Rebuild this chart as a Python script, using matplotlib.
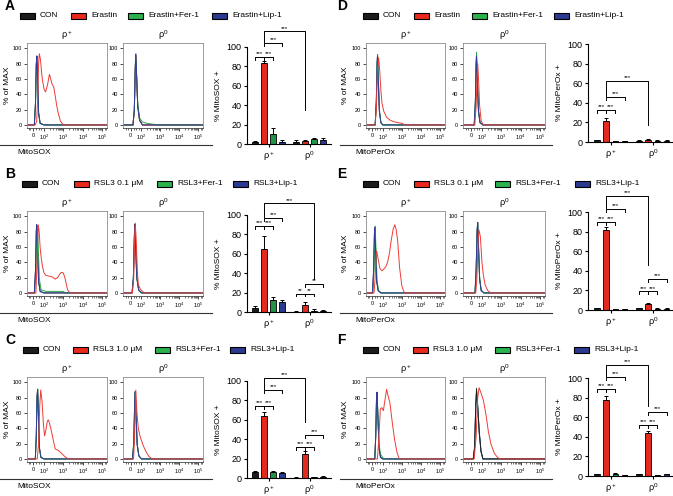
import matplotlib
matplotlib.use('Agg')
import numpy as np
import matplotlib.pyplot as plt
from matplotlib.patches import Rectangle
from matplotlib.lines import Line2D

plt.rcParams['font.family'] = ['Liberation Sans', 'DejaVu Sans']
plt.rcParams['mathtext.fontset'] = 'custom'
plt.rcParams['mathtext.rm'] = 'Liberation Sans'
plt.rcParams['mathtext.it'] = 'Liberation Sans:italic'

# ---- data ----
labels_erastin = ['CON', 'Erastin', 'Erastin+Fer-1', 'Erastin+Lip-1']
labels_rsl3_01 = ['CON', 'RSL3 0.1 μM', 'RSL3+Fer-1', 'RSL3+Lip-1']
labels_rsl3_10 = ['CON', 'RSL3 1.0 μM', 'RSL3+Fer-1', 'RSL3+Lip-1']
group_labels = ['ρ$^+$', 'ρ$^0$']

# bar means / errors (rho+, rho0), order CON, drug, +Fer-1, +Lip-1
a_pos, a_pos_err = [2, 83, 10, 2.5], [1, 3, 6, 2]
a_zero, a_zero_err = [2.5, 3, 5, 4], [1.5, 1.5, 1.5, 2]
b_pos, b_pos_err = [4.5, 65, 12, 10.5], [1.5, 13, 3, 1.5]
b_zero, b_zero_err = [0.5, 7.5, 1.5, 1.5], [0.3, 2.5, 1.5, 0.8]
c_pos, c_pos_err = [6, 63.5, 6, 5], [1.5, 5, 1.5, 1]
c_zero, c_zero_err = [0.5, 25, 1, 1.5], [0.3, 2.5, 0.5, 0.5]
d_pos, d_pos_err = [2, 21, 0.8, 0.8], [0.5, 3.5, 0.3, 0.3]
d_zero, d_zero_err = [1.5, 2.5, 1.5, 1.5], [0.5, 1, 0.5, 0.5]
e_pos, e_pos_err = [2, 82, 1, 0.7], [0.5, 2.5, 0.3, 0.3]
e_zero, e_zero_err = [2, 6.5, 1.5, 1.5], [0.5, 1, 0.5, 0.5]
f_pos, f_pos_err = [2, 77.5, 2.5, 1], [0.5, 4, 0.8, 0.3]
f_zero, f_zero_err = [2, 44, 1, 2], [0.5, 2, 0.3, 0.5]

# significance brackets: (bar i, bar j, level, text, left leg end, right leg end)
sig_a = [(0, 1, 90, '***', 87, 87), (1, 2, 90, '***', 87, 87), (1, 3, 104, '***', 101, 101),
         (1, 5, 116, '***', 105, 35)]
sig_b = [(0, 1, 89, '***', 86, 86), (1, 2, 89, '***', 86, 86), (1, 3, 97, '***', 94, 94),
         (1, 6, 112, '***', 98, 34), (4, 5, 19, '**', 16, 16), (5, 6, 19, '**', 16, 16),
         (5, 7, 29, '**', 26, 26)]
sig_c = [(0, 1, 74, '***', 71, 71), (1, 2, 74, '***', 71, 71), (1, 3, 91, '***', 88, 88),
         (1, 5, 103.5, '***', 92, 58), (4, 5, 32, '***', 29, 29), (5, 6, 32, '***', 29, 29),
         (5, 7, 44, '***', 41, 41)]
sig_d = [(0, 1, 33, '***', 30, 30), (1, 2, 33, '***', 30, 30), (1, 3, 46, '***', 43, 43),
         (1, 5, 62, '***', 47, 17)]
sig_e = [(0, 1, 90, '***', 87, 87), (1, 2, 90, '***', 87, 87), (1, 3, 103, '***', 100, 100),
         (1, 5, 116, '***', 104, 46), (4, 5, 19, '***', 16, 16), (5, 6, 19, '***', 16, 16),
         (5, 7, 31.5, '***', 28.5, 28.5)]
sig_f = [(0, 1, 89, '***', 86, 86), (1, 2, 89, '***', 86, 86), (1, 3, 100.7, '***', 97.7, 97.7),
         (1, 5, 113.5, '***', 102, 71), (4, 5, 52, '***', 49, 49), (5, 6, 52, '***', 49, 49),
         (5, 7, 65, '***', 62, 62)]

# flow histograms: (channel position, % of max); 2 = 10^2 ... 5 = 10^5
hist_a_pos = {
    'con': ([1.1, 1.5, 1.56, 1.6, 1.63, 1.67, 1.72, 1.8, 2.0, 5.3], [0, 0, 30, 80, 90, 60, 15, 2, 0, 0]),
    'fer': ([1.1, 1.5, 1.56, 1.6, 1.63, 1.67, 1.72, 1.8, 2.0, 5.3], [0, 0, 28, 76, 88, 60, 16, 2, 0, 0]),
    'lip': ([1.1, 1.5, 1.56, 1.6, 1.63, 1.67, 1.72, 1.8, 2.0, 5.3], [0, 0, 28, 78, 90, 62, 16, 2, 0, 0]),
    'drug': ([1.1, 1.55, 1.62, 1.68, 1.72, 1.76, 1.82, 1.9, 2.0, 2.08, 2.18, 2.28, 2.35, 2.42, 2.5,
              2.58, 2.66, 2.75, 2.85, 3.0, 5.3],
             [0, 0, 5, 40, 80, 93, 85, 62, 47, 43, 52, 66, 60, 53, 50, 38, 25, 14, 5, 0, 0]),
}
hist_a_zero = {
    'con': ([1.0, 1.55, 1.62, 1.67, 1.7, 1.74, 1.8, 1.9, 2.05, 5.3], [0, 0, 20, 75, 92, 65, 25, 6, 0, 0]),
    'drug': ([1.0, 1.55, 1.62, 1.67, 1.7, 1.74, 1.8, 1.9, 2.05, 5.3], [0, 0, 20, 72, 90, 64, 25, 6, 0, 0]),
    'fer': ([1.0, 1.55, 1.62, 1.67, 1.7, 1.74, 1.8, 1.9, 2.05, 2.3, 2.6, 2.9, 5.3],
            [0, 0, 18, 70, 88, 66, 28, 9, 4, 2, 1, 0, 0]),
    'lip': ([1.0, 1.55, 1.62, 1.67, 1.7, 1.74, 1.8, 1.9, 2.05, 5.3], [0, 0, 20, 76, 93, 66, 24, 6, 0, 0]),
}
hist_b_pos = {
    'con': ([1.1, 1.5, 1.56, 1.6, 1.62, 1.66, 1.72, 1.8, 2.0, 5.3], [0, 0, 30, 80, 89, 60, 15, 2, 0, 0]),
    'fer': ([1.1, 1.52, 1.58, 1.63, 1.66, 1.7, 1.76, 1.85, 2.1, 2.6, 3.0, 3.1, 5.3],
            [0, 0, 30, 78, 88, 62, 18, 4, 2, 2, 2, 0, 0]),
    'lip': ([1.1, 1.5, 1.56, 1.6, 1.62, 1.66, 1.72, 1.8, 2.0, 5.3], [0, 0, 30, 80, 89, 60, 15, 2, 0, 0]),
    'drug': ([1.1, 1.58, 1.64, 1.7, 1.75, 1.8, 1.86, 1.92, 2.0, 2.1, 2.25, 2.42, 2.58, 2.7, 2.8, 2.9,
              3.0, 3.08, 3.15, 3.22, 3.35, 5.3],
             [0, 0, 40, 89, 80, 59, 45, 35, 26, 23, 22, 21, 18, 20, 24, 27, 26, 20, 12, 4, 0, 0]),
}
hist_b_zero = {
    'con': ([1.0, 1.5, 1.57, 1.62, 1.65, 1.69, 1.75, 1.85, 2.0, 5.3], [0, 0, 20, 75, 90, 62, 20, 4, 0, 0]),
    'fer': ([1.0, 1.5, 1.57, 1.62, 1.65, 1.69, 1.75, 1.85, 2.0, 5.3], [0, 0, 18, 70, 86, 60, 20, 4, 0, 0]),
    'lip': ([1.0, 1.5, 1.57, 1.62, 1.65, 1.69, 1.75, 1.85, 2.0, 5.3], [0, 0, 20, 72, 88, 60, 20, 4, 0, 0]),
    'drug': ([1.0, 1.52, 1.59, 1.64, 1.67, 1.72, 1.78, 1.83, 1.92, 2.0, 2.17, 5.3],
             [0, 0, 20, 75, 91, 70, 30, 11, 6, 3, 0, 0]),
}
hist_c_pos = {
    'con': ([1.1, 1.55, 1.6, 1.64, 1.67, 1.71, 1.76, 1.84, 2.0, 5.3], [0, 0, 30, 82, 91, 60, 15, 2, 0, 0]),
    'fer': ([1.1, 1.55, 1.6, 1.64, 1.67, 1.71, 1.76, 1.84, 2.0, 5.3], [0, 0, 28, 78, 89, 60, 15, 2, 0, 0]),
    'lip': ([1.1, 1.55, 1.6, 1.64, 1.67, 1.71, 1.76, 1.84, 2.0, 5.3], [0, 0, 30, 82, 91, 60, 15, 2, 0, 0]),
    'drug': ([1.1, 1.65, 1.72, 1.78, 1.83, 1.9, 1.97, 2.03, 2.1, 2.17, 2.22, 2.28, 2.35, 2.45, 2.58,
              2.75, 2.92, 3.08, 3.25, 5.3],
             [0, 0, 20, 70, 90, 75, 45, 30, 38, 49, 51, 47, 40, 28, 13, 11, 7, 3, 0, 0]),
}
hist_c_zero = {
    'con': ([1.0, 1.52, 1.59, 1.64, 1.67, 1.71, 1.77, 1.86, 2.0, 5.3], [0, 0, 20, 75, 88, 60, 20, 4, 0, 0]),
    'fer': ([1.0, 1.52, 1.59, 1.64, 1.67, 1.71, 1.77, 1.86, 2.0, 5.3], [0, 0, 20, 72, 86, 60, 20, 4, 0, 0]),
    'lip': ([1.0, 1.52, 1.59, 1.64, 1.67, 1.71, 1.77, 1.86, 2.0, 5.3], [0, 0, 20, 75, 88, 58, 18, 4, 0, 0]),
    'drug': ([1.0, 1.58, 1.64, 1.7, 1.76, 1.83, 1.92, 2.0, 2.1, 2.25, 2.4, 2.58, 5.3],
             [0, 0, 35, 90, 60, 40, 30, 24, 17, 9, 3, 0, 0]),
}
hist_d_pos = {
    'con': ([1.1, 1.6, 1.66, 1.7, 1.72, 1.76, 1.82, 1.9, 2.0, 5.3], [0, 0, 30, 78, 88, 60, 18, 3, 0, 0]),
    'fer': ([1.1, 1.6, 1.66, 1.7, 1.73, 1.77, 1.83, 1.9, 2.0, 5.3], [0, 0, 30, 80, 92, 62, 18, 3, 0, 0]),
    'lip': ([1.1, 1.6, 1.66, 1.7, 1.72, 1.76, 1.82, 1.9, 2.0, 5.3], [0, 0, 30, 80, 90, 60, 18, 3, 0, 0]),
    'drug': ([1.1, 1.6, 1.66, 1.72, 1.78, 1.84, 1.9, 1.96, 2.05, 2.2, 2.4, 2.6, 2.8, 3.0, 3.2, 5.3],
             [0, 0, 20, 70, 88, 70, 45, 28, 18, 10, 6, 4, 3, 2, 0, 0]),
}
hist_d_zero = {
    'con': ([1.0, 1.6, 1.66, 1.7, 1.72, 1.76, 1.82, 1.9, 2.05, 5.3], [0, 0, 30, 78, 88, 60, 18, 3, 0, 0]),
    'fer': ([1.0, 1.6, 1.66, 1.7, 1.72, 1.76, 1.82, 1.9, 2.05, 5.3], [0, 0, 30, 82, 95, 62, 18, 3, 0, 0]),
    'lip': ([1.0, 1.6, 1.66, 1.7, 1.72, 1.76, 1.82, 1.9, 2.05, 5.3], [0, 0, 30, 80, 90, 60, 18, 3, 0, 0]),
    'drug': ([1.0, 1.63, 1.7, 1.75, 1.78, 1.82, 1.88, 1.96, 2.08, 5.3], [0, 0, 25, 65, 80, 62, 25, 5, 0, 0]),
}
hist_e_pos = {
    'con': ([1.1, 1.46, 1.52, 1.56, 1.58, 1.62, 1.68, 1.76, 1.9, 5.3], [0, 0, 30, 76, 85, 58, 15, 3, 0, 0]),
    'fer': ([1.1, 1.48, 1.54, 1.58, 1.6, 1.64, 1.7, 1.78, 1.92, 5.3], [0, 0, 30, 78, 87, 60, 16, 3, 0, 0]),
    'lip': ([1.1, 1.46, 1.52, 1.56, 1.58, 1.62, 1.68, 1.76, 1.9, 5.3], [0, 0, 30, 76, 85, 58, 15, 3, 0, 0]),
    'drug': ([1.1, 1.54, 1.6, 1.65, 1.68, 1.75, 1.85, 1.95, 2.05, 2.15, 2.25, 2.35, 2.45, 2.55, 2.63,
              2.7, 2.78, 2.88, 3.0, 3.13, 5.3],
             [0, 0, 20, 50, 55, 45, 32, 29, 31, 34, 40, 52, 70, 84, 89, 83, 68, 33, 9, 0, 0]),
}
hist_e_zero = {
    'con': ([1.0, 1.64, 1.7, 1.75, 1.78, 1.82, 1.88, 1.96, 2.1, 5.3], [0, 0, 30, 82, 92, 62, 18, 3, 0, 0]),
    'fer': ([1.0, 1.64, 1.7, 1.75, 1.78, 1.82, 1.88, 1.96, 2.1, 5.3], [0, 0, 30, 80, 90, 62, 20, 4, 0, 0]),
    'lip': ([1.0, 1.64, 1.7, 1.75, 1.78, 1.82, 1.88, 1.96, 2.1, 5.3], [0, 0, 30, 82, 92, 62, 18, 3, 0, 0]),
    'drug': ([1.0, 1.68, 1.74, 1.8, 1.85, 1.92, 2.0, 2.08, 2.17, 2.3, 2.45, 5.3],
             [0, 0, 20, 70, 82, 73, 40, 22, 10, 3, 0, 0]),
}
hist_f_pos = {
    'con': ([1.1, 1.58, 1.63, 1.67, 1.7, 1.74, 1.8, 1.88, 2.0, 5.3], [0, 0, 30, 78, 87, 58, 15, 2, 0, 0]),
    'fer': ([1.1, 1.58, 1.63, 1.67, 1.7, 1.74, 1.8, 1.88, 2.05, 5.3], [0, 0, 28, 75, 85, 58, 20, 6, 0, 0]),
    'lip': ([1.1, 1.58, 1.63, 1.67, 1.7, 1.74, 1.8, 1.88, 2.0, 5.3], [0, 0, 30, 78, 87, 58, 15, 2, 0, 0]),
    'drug': ([1.1, 1.72, 1.8, 1.87, 1.95, 2.03, 2.12, 2.2, 2.27, 2.37, 2.5, 2.62, 2.75, 2.87, 5.3],
             [0, 0, 30, 65, 67, 63, 78, 91, 83, 74, 47, 25, 8, 0, 0]),
}
hist_f_zero = {
    'fer': ([1.0, 1.55, 1.62, 1.68, 1.72, 1.78, 1.86, 1.95, 2.05, 5.3], [0, 0, 15, 68, 88, 68, 35, 10, 0, 0]),
    'lip': ([1.0, 1.55, 1.62, 1.68, 1.72, 1.78, 1.86, 1.95, 2.05, 5.3], [0, 0, 15, 68, 88, 68, 35, 10, 0, 0]),
    'con': ([1.0, 1.55, 1.62, 1.68, 1.72, 1.78, 1.86, 1.95, 2.05, 5.3], [0, 0, 15, 70, 92, 70, 35, 10, 0, 0]),
    'drug': ([1.0, 1.6, 1.7, 1.78, 1.85, 1.97, 2.08, 2.22, 2.33, 2.47, 2.63, 2.8, 2.95, 5.3],
             [0, 0, 30, 80, 93, 85, 76, 56, 36, 19, 8, 2, 0, 0]),
}

# ---- style ----
W, H = 673, 496
bar_colors = ['#1c1c1c', '#e32a1f', '#23914a', '#2c3990']
legend_colors = ['#1c1c1c', '#e8291c', '#2bb24c', '#2c3990']
hist_colors = {'con': '#222222', 'drug': '#ee3b34', 'fer': '#2ca640', 'lip': '#2d3c9c'}
bar_x = [0, 1, 2, 3, 4.6, 5.6, 6.6, 7.6]

fig = plt.figure(figsize=(W / 100, H / 100), dpi=100)


def add_ax(x0, y0, x1, y1):
    return fig.add_axes([x0 / W, 1 - y1 / H, (x1 - x0) / W, (y1 - y0) / H])


def ftext(x, y, s, **kw):
    fig.text(x / W, 1 - y / H, s, **kw)


def draw_hist(ax, curves, left):
    for name, (u, v) in curves.items():
        ax.plot(u, v, color=hist_colors[name], lw=0.7)
    ax.set_xlim(left, 5.26)
    ax.set_ylim(-4, 107)
    ax.set_xticks([1.43, 2, 3, 4, 5])
    ax.set_xticklabels(['0', '$10^2$', '$10^3$', '$10^4$', '$10^5$'], fontsize=4)
    minor = [1.2, 1.3, 1.58, 1.72, 1.86] + [np.log10(k) + n for n in (2, 3, 4) for k in range(2, 10)] + [5.15, 5.23]
    ax.set_xticks([m for m in minor if m > left], minor=True)
    ax.set_yticks(range(0, 101, 20))
    ax.set_yticklabels([str(t) for t in range(0, 101, 20)], fontsize=4)
    for s in ax.spines.values():
        s.set_color('#8c8c8c')
        s.set_linewidth(0.6)
    ax.spines['bottom'].set_color('#444444')
    ax.tick_params(length=2, width=0.5, pad=1.5)
    ax.tick_params(which='minor', length=1.2, width=0.4)


def draw_bars(ax, pos, pos_err, zero, zero_err, sig, ylabel):
    vals = pos + zero
    errs = pos_err + zero_err
    ax.bar(bar_x, vals, width=0.62, color=bar_colors * 2, edgecolor='black', linewidth=0.6,
           yerr=[[0] * 8, errs], capsize=1.6,
           error_kw=dict(elinewidth=0.7, capthick=0.7, ecolor='black'))
    ax.set_ylim(0, 100)
    ax.spines['top'].set_visible(False)
    ax.spines['right'].set_visible(False)
    for s in ('left', 'bottom'):
        ax.spines[s].set_linewidth(0.8)
    ax.set_xticks([1.5, 6.1])
    ax.set_xticklabels(group_labels, fontsize=6.5)
    ax.set_yticks(range(0, 101, 20))
    ax.set_yticklabels([str(t) for t in range(0, 101, 20)], fontsize=6.5)
    ax.tick_params(length=2.5, width=0.8, pad=1.5)
    ax.set_ylabel(ylabel, fontsize=6, labelpad=3)
    for i, j, lev, txt, yl, yr in sig:
        xi, xj = bar_x[i], bar_x[j]
        ax.plot([xi, xi, xj, xj], [yl, lev, lev, yr], color='black', lw=0.7, clip_on=False)
        ax.text((xi + xj) / 2, lev + 0.8, txt, fontsize=4.5, ha='center', va='bottom', clip_on=False)


def draw_row(col, dy, letter, labels, legend_x, h_pos, h_zero, pos, pos_err, zero, zero_err, sig,
             marker, ylabel):
    if col == 0:
        h1, h2, bx, lx, hl, mx, yl_x = (27, 107), (123, 203), (247, 331), 5, (0, 212), 17, 8
        xl = (-0.92, 8.5)
    else:
        h1, h2, bx, lx, hl, mx, yl_x = (366, 445), (463, 545), (588, 673), 337, (340, 552), 355, 346
        xl = (-1.0, 8.3)
    ftext(lx, dy + 6, letter, fontsize=10, fontweight='bold', va='center', ha='left')
    for k in range(4):
        x0 = legend_x[k]
        fig.add_artist(Rectangle((x0 / W, 1 - (dy + 18.5) / H), 15 / W, 6 / H,
                                 transform=fig.transFigure, facecolor=legend_colors[k],
                                 edgecolor='black', linewidth=0.8))
        ftext(x0 + 20, dy + 15.5, labels[k], fontsize=6, va='center', ha='left')
    ax1 = add_ax(h1[0], dy + 43, h1[1], dy + 128)
    ax2 = add_ax(h2[0], dy + 43, h2[1], dy + 128)
    draw_hist(ax1, h_pos, 1.12)
    draw_hist(ax2, h_zero, 1.02)
    ftext((h1[0] + h1[1]) / 2, dy + 35, group_labels[0], fontsize=6.5, ha='center', va='center')
    ftext((h2[0] + h2[1]) / 2, dy + 35, group_labels[1], fontsize=6.5, ha='center', va='center')
    ftext(yl_x, dy + 85, '% of MAX', fontsize=6, rotation=90, ha='center', va='center')
    fig.add_artist(Line2D([hl[0] / W, hl[1] / W], [1 - (dy + 145) / H] * 2,
                          transform=fig.transFigure, color='#333333', lw=0.8))
    ftext(mx, dy + 153, marker, fontsize=6, ha='left', va='center')
    if col == 0:
        bax = add_ax(bx[0], dy + 47, bx[1], dy + 144)
    else:
        bax = add_ax(bx[0], dy + 44, bx[1], dy + 142)
    draw_bars(bax, pos, pos_err, zero, zero_err, sig, ylabel)
    bax.set_xlim(*xl)


draw_row(0, 0, 'A', labels_erastin, [20, 71, 128, 212], hist_a_pos, hist_a_zero,
         a_pos, a_pos_err, a_zero, a_zero_err, sig_a, 'MitoSOX', '% MitoSOX +')
draw_row(0, 168, 'B', labels_rsl3_01, [22, 74, 157, 233], hist_b_pos, hist_b_zero,
         b_pos, b_pos_err, b_zero, b_zero_err, sig_b, 'MitoSOX', '% MitoSOX +')
draw_row(0, 334, 'C', labels_rsl3_10, [23, 73, 155, 230], hist_c_pos, hist_c_zero,
         c_pos, c_pos_err, c_zero, c_zero_err, sig_c, 'MitoSOX', '% MitoSOX +')
draw_row(1, 0, 'D', labels_erastin, [363, 414, 472, 554], hist_d_pos, hist_d_zero,
         d_pos, d_pos_err, d_zero, d_zero_err, sig_d, 'MitoPerOx', '% MitoPerOx +')
draw_row(1, 168, 'E', labels_rsl3_01, [363, 414, 495, 575], hist_e_pos, hist_e_zero,
         e_pos, e_pos_err, e_zero, e_zero_err, sig_e, 'MitoPerOx', '% MitoPerOx +')
draw_row(1, 334, 'F', labels_rsl3_10, [363, 413, 495, 574], hist_f_pos, hist_f_zero,
         f_pos, f_pos_err, f_zero, f_zero_err, sig_f, 'MitoPerOx', '% MitoPerOx +')

fig.savefig('out.png', dpi=100)
